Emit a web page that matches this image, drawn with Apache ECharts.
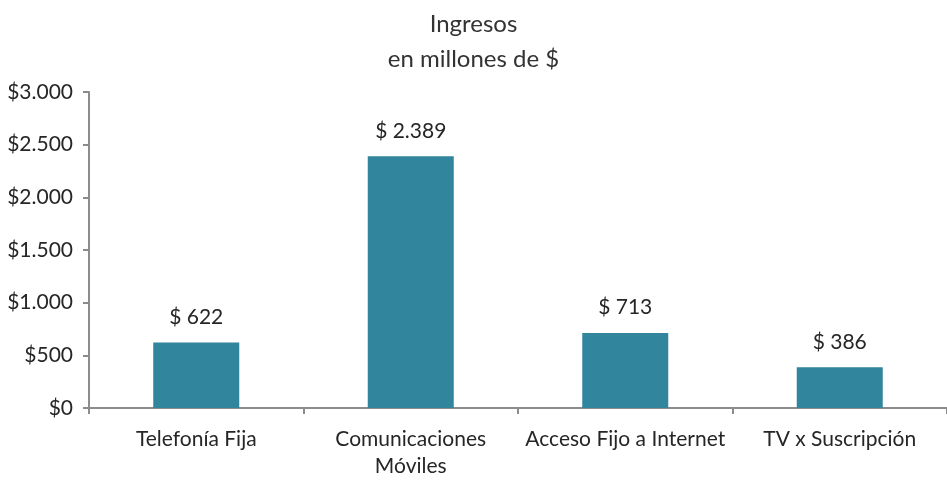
<!DOCTYPE html>
<html>
<head>
<meta charset="utf-8">
<script src="https://cdn.jsdelivr.net/npm/echarts@6/dist/echarts.min.js"></script>
<style>
  html, body { margin: 0; padding: 0; background: #fff; }
  #chart { width: 947px; height: 480px; }
</style>
</head>
<body>
<div id="chart"></div>
<script>
const categories = ["Telefonía Fija", "Comunicaciones\nMóviles", "Acceso Fijo a Internet", "TV x Suscripción"];
const ingresos = [622, 2389, 713, 386];

// formato con punto de miles
function miles(v) {
  return String(v).replace(/\B(?=(\d{3})+(?!\d))/g, ".");
}

const chart = echarts.init(document.getElementById("chart"));
chart.setOption({
  animation: false,
  textStyle: { fontFamily: "Lato" },
  title: {
    text: "Ingresos\nen millones de $",
    left: "center",
    top: 2,
    textStyle: { fontFamily: "Lato", fontSize: 24, fontWeight: "normal", color: "#333333", lineHeight: 35 },
  },
  grid: { left: 89, right: -6, top: 92, bottom: 72 },
  xAxis: {
    type: "category",
    data: categories,
    axisLine: { lineStyle: { color: "#8c8c8c", width: 2 } },
    axisTick: { show: true, alignWithLabel: false, length: 6, lineStyle: { color: "#8c8c8c", width: 2 } },
    axisLabel: { color: "#262626", fontSize: 21, margin: 18, lineHeight: 27, interval: 0 },
  },
  yAxis: {
    type: "value",
    min: 0,
    max: 3000,
    interval: 500,
    splitLine: { show: false },
    axisLine: { show: true, lineStyle: { color: "#8c8c8c", width: 2 } },
    axisTick: { show: true, length: 6, lineStyle: { color: "#8c8c8c", width: 2 } },
    axisLabel: {
      color: "#262626",
      fontSize: 21,
      margin: 16,
      formatter: (v) => "$" + miles(v),
    },
  },
  series: [
    {
      type: "bar",
      data: ingresos,
      barWidth: 86,
      itemStyle: { color: "#31859c" },
      label: {
        show: true,
        position: "top",
        distance: 15,
        color: "#262626",
        fontSize: 21,
        formatter: (p) => "$ " + miles(p.value),
      },
    },
  ],
});
</script>
</body>
</html>
